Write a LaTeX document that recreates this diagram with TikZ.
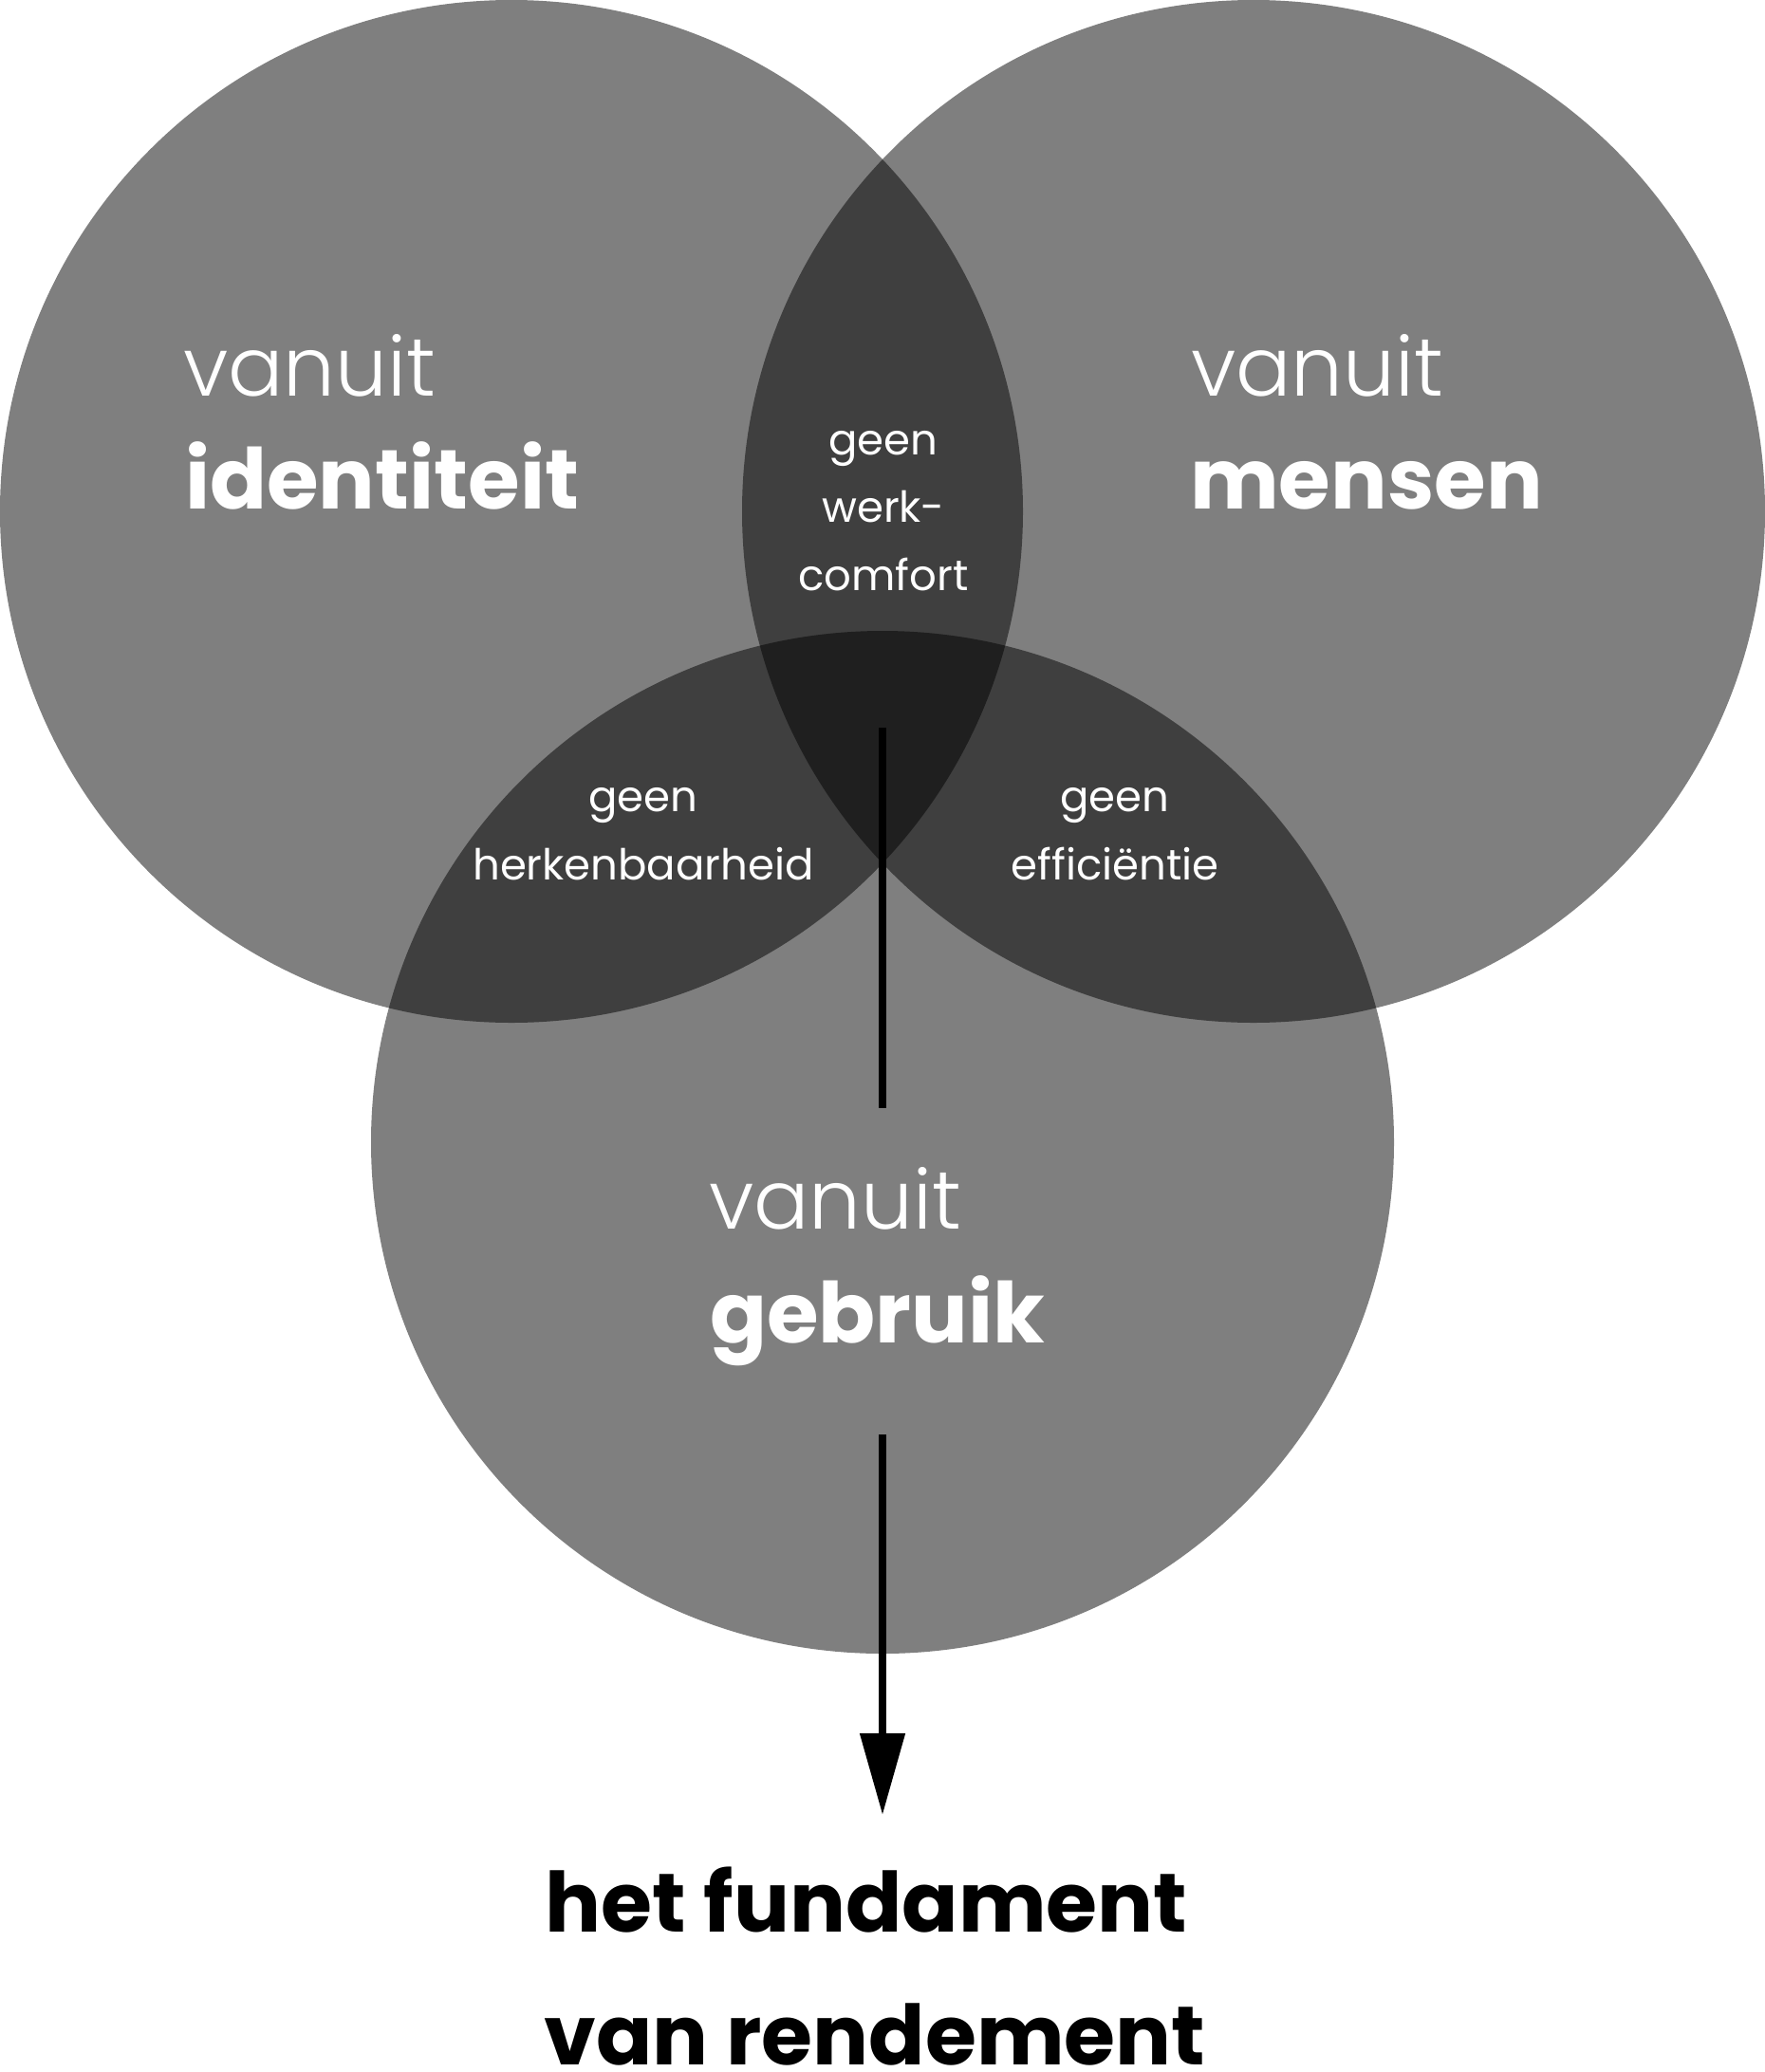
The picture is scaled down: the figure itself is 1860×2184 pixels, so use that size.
\documentclass[tikz,border=0pt]{standalone}
\usepackage{fontspec}
\setmainfont{Poppins}
\newfontfamily\poplight{Poppins Light}
\newfontfamily\popbold{Poppins}[UprightFont=* Bold]
\usetikzlibrary{arrows.meta}
\tikzset{
  venn/.style={circle, fill=black, fill opacity=0.5, draw=none, minimum size=1078pt, inner sep=0pt},
  lighttxt/.style={text=white, inner sep=0pt, font=\poplight\fontsize{86.5}{86.5}\selectfont},
  boldtxt/.style={text=white, inner sep=0pt, font=\popbold\fontsize{88.5}{88.5}\selectfont},
  smalltxt/.style={text=white, inner sep=0pt, anchor=base, font=\fontsize{45}{45}\selectfont},
  endtxt/.style={text=black, inner sep=0pt, anchor=base, font=\popbold\fontsize{87.5}{87.5}\selectfont},
  flow/.style={line width=8pt, draw=black}
}
\begin{document}
\begin{tikzpicture}[x=1pt, y=-1pt]
  \fill[white] (0,0) rectangle (1860,2184);
  \useasboundingbox (0,0) rectangle (1860,2184);
  % circles
  \node[venn] (cid) at (539,539) {};
  \node[venn] (cmen) at (1321,539) {};
  \node[venn] (cgeb) at (930,1204) {};
  % main labels
  \node[lighttxt, anchor=base west] (id1) at (193,417) {vanuit};
  \node[boldtxt, anchor=base west] (id2) at (195,536) {identiteit};
  \node[lighttxt, anchor=base west] (me1) at (1255,417) {vanuit};
  \node[boldtxt, anchor=base west] (me2) at (1254,536) {mensen};
  \node[lighttxt, anchor=base west] (ge1) at (747,1295) {vanuit};
  \node[boldtxt, anchor=base west] (ge2) at (748,1415) {gebruik};
  % intersections
  \node[smalltxt] (wc1) at (931,479) {geen};
  \node[smalltxt] (wc2) at (931,550) {werk-};
  \node[smalltxt] (wc3) at (931,622) {comfort};
  \node[smalltxt] (hk1) at (678,855) {geen};
  \node[smalltxt] (hk2) at (678,927) {herkenbaarheid};
  \node[smalltxt] (ef1) at (1175,855) {geen};
  \node[smalltxt] (ef2) at (1175,927) {efficiëntie};
  % arrow
  \coordinate (a1) at (930,767);
  \coordinate (a2) at (930,1168);
  \coordinate (a3) at (930,1512);
  \coordinate (a4) at (930,1913);
  \draw[flow] (a1) -- (a2);
  \draw[flow, -{Triangle[length=86pt, width=46pt]}] (a3) -- (a4);
  % result
  \node[endtxt] (res1) at (913,2036) {het fundament};
  \node[endtxt] (res2) at (922,2176) {van rendement};
\end{tikzpicture}
\end{document}
